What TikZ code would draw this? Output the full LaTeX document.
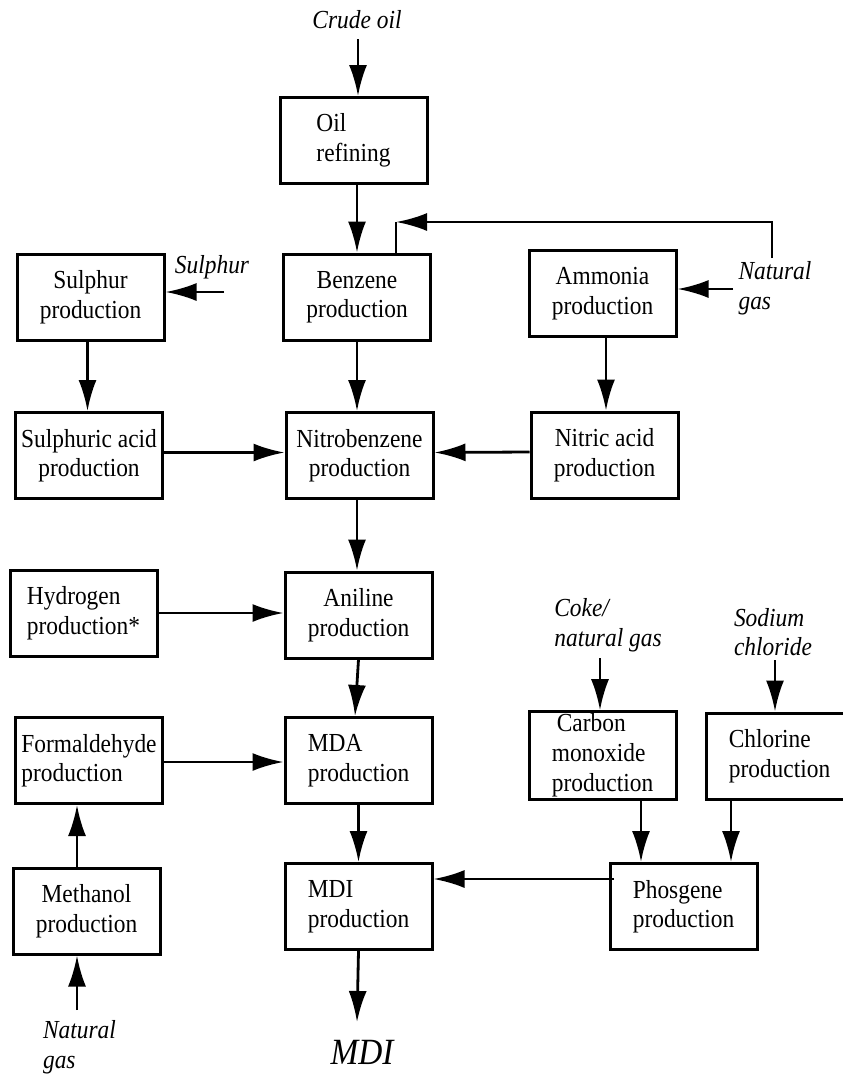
\documentclass[tikz,border=0pt]{standalone}
\usepackage{fontspec}
\setmainfont{Liberation Serif}[FakeStretch=0.9]
\usetikzlibrary{arrows.meta}

\begin{document}
\begin{tikzpicture}[x=1pt,y=-1pt,>={Latex[length=31pt,width=18pt]},
		box/.style={draw,line width=3pt,minimum width=147pt,minimum height=86pt,inner sep=2pt,align=center,font=\fontsize{26}{29.5}\selectfont},
		feed/.style={inner sep=0pt,align=left,font=\fontsize{26}{29.5}\selectfont\itshape},
		flow/.style={line width=2.8pt}]
		\useasboundingbox (0,0) rectangle (843,1074);
		%Colonna centrale
		\node [box,align=left] (refine) at (353.5,140.5) {Oil\\refining};
		\node [box] (benz) at (357,297) {Benzene\\production};
		\node [box] (nitro) at (359.5,455.5) {Nitrobenzene\\production};
		\node [box] (anil) at (358.5,615) {Aniline\\production};
		\node [box,align=left] (mda) at (358.5,760.5) {MDA\\production};
		\node [box,align=left] (mdi) at (358.5,906.5) {MDI\\production};
		%Colonna sinistra
		\node [box] (sulph) at (90.5,297) {Sulphur\\production};
		\node [box] (sacid) at (89,455.5) {Sulphuric acid\\production};
		\node [box,align=left] (hydro) at (83.5,613) {Hydrogen\\production*};
		\node [box,align=left] (formal) at (89,760.5) {Formaldehyde\\production};
		\node [box] (methan) at (86.5,911) {Methanol\\production};
		%Colonna destra
		\node [box] (ammon) at (602.5,293.5) {Ammonia\\production};
		\node [box] (nitric) at (604.5,455) {Nitric acid\\production};
		\node [box,align=left,font=\fontsize{26}{30}\selectfont] (co) at (602.5,755.5) {\hspace{5pt}Carbon\\monoxide\\production};
		\node [box,align=left] (chlor) at (779.5,756) {Chlorine\\production};
		\node [box,align=left] (phosg) at (683.5,906.5) {Phosgene\\production};
		%Materie prime
		\node [feed,align=center] (crude) at (357,20) {Crude oil};
		\node [feed] (sulin) at (212,267) {Sulphur};
		\node [feed] (gas1) at (775,288) {Natural\\gas};
		\node [feed] (coke) at (608,625) {Coke/\\natural gas};
		\node [feed] (salt) at (773,632) {Sodium\\chloride};
		\node [feed] (gas2) at (79.5,1047) {Natural\\gas};
		\node [inner sep=0pt,font=\fontsize{37}{40}\selectfont\itshape] (prod) at (362,1052) {MDI};
		%Punti liberi
		\coordinate (c0) at (358,39);
		\coordinate (s0) at (224,292);
		\coordinate (g0) at (733,289);
		\coordinate (g1) at (772,258);
		\coordinate (corner) at (396,222);
		\coordinate (k0) at (600,658);
		\coordinate (k1) at (775,660);
		\coordinate (m0) at (77,1010);
		\coordinate (p0) at (614,879);
		\coordinate (q0) at (357,1022);
		%Frecce
		\draw [flow,->] (c0) -- (c0 |- refine.north);
		\draw [flow,->] (benz.north |- refine.south) -- (benz.north);
		\draw [flow,->] (s0) -- (s0 -| sulph.east);
		\draw [flow,->] (g0) -- (g0 -| ammon.east);
		\draw [flow,->] (g1) |- (corner);
		\draw [flow] (corner) -- (corner |- benz.north);
		\draw [flow,->] ([xshift=-3pt]sulph.south) -- ([xshift=-3pt]sulph.south |- sacid.north);
		\draw [flow,->] (benz.south) -- (benz.south |- nitro.north);
		\draw [flow,->] ([xshift=3.5pt]ammon.south) -- ([xshift=3.5pt]ammon.south |- nitric.north);
		\draw [flow,->] ([yshift=3pt]sacid.east) -- ([yshift=3pt]nitro.west);
		\draw [flow,->] ([yshift=3pt]nitric.west) -- ([yshift=3pt]nitro.west -| nitro.east);
		\draw [flow,->] ([xshift=-2.5pt]nitro.south) -- ([xshift=-2.5pt]nitro.south |- anil.north);
		\draw [flow,->] (hydro.east) -- (hydro.east -| anil.west);
		\draw [flow,->] (anil.south) -- ([xshift=-3.5pt]mda.north);
		\draw [flow,->] ([yshift=-1.5pt]formal.east) -- ([yshift=-1.5pt]formal.east -| mda.west);
		\draw [flow,->] ([xshift=-9.5pt]methan.north) -- ([xshift=-9.5pt]methan.north |- formal.south);
		\draw [flow,->] (m0) -- (m0 |- methan.south);
		\draw [flow,->] (mda.south) -- (mda.south |- mdi.north);
		\draw [flow,->] (k0) -- (k0 |- co.north);
		\draw [flow,->] (k1) -- (k1 |- chlor.north);
		\draw [flow,->] ([xshift=-42.5pt]phosg.north |- co.south) -- ([xshift=-42.5pt]phosg.north);
		\draw [flow,->] ([xshift=47.5pt]phosg.north |- chlor.south) -- ([xshift=47.5pt]phosg.north);
		\draw [flow,->] (p0) -- (p0 -| mdi.east);
		\draw [flow,->] (mdi.south) -- (q0);
	\end{tikzpicture}
\end{document}
